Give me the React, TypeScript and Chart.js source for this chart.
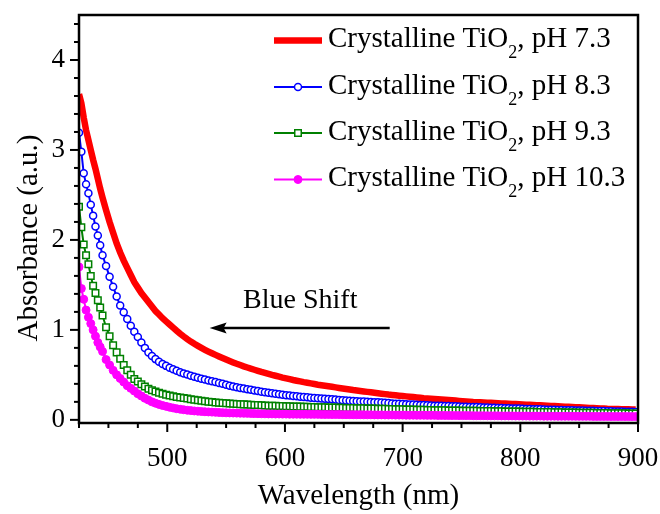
import React, { useEffect, useRef } from 'react';
import { Chart, registerables } from 'chart.js';

Chart.register(...registerables);

// ---------- data ----------
const wavelengths = [
  425, 427, 429, 431, 433, 435, 437, 439, 441, 443, 445,
  448, 451, 454, 457, 460, 463, 466, 469, 472, 475,
  478, 481, 484, 487, 490, 493, 496, 499, 502, 505,
  508, 511, 514, 517, 520, 523, 526, 529, 532, 535,
  538, 541, 544, 547, 550, 553, 556, 559, 562, 565,
  568, 571, 574, 577, 580, 583, 586, 589, 592, 595,
  598, 601, 604, 607, 610, 613, 616, 619, 622, 625,
  628, 631, 634, 637, 640, 643, 646, 649, 652, 655,
  658, 661, 664, 667, 670, 673, 676, 679, 682, 685,
  688, 691, 694, 697, 700, 703, 706, 709, 712, 715,
  718, 721, 724, 727, 730, 733, 736, 739, 742, 745,
  748, 751, 754, 757, 760, 763, 766, 769, 772, 775,
  778, 781, 784, 787, 790, 793, 796, 799, 802, 805,
  808, 811, 814, 817, 820, 823, 826, 829, 832, 835,
  838, 841, 844, 847, 850, 853, 856, 859, 862, 865,
  868, 871, 874, 877, 880, 883, 886, 889, 892, 895,
  898,
];

const absPH73 = [
  3.62, 3.52, 3.36, 3.22, 3.11, 3.00, 2.89, 2.79, 2.68, 2.57, 2.47,
  2.33, 2.20, 2.08, 1.96, 1.86, 1.77, 1.69, 1.61, 1.53, 1.47,
  1.41, 1.36, 1.31, 1.26, 1.21, 1.17, 1.13, 1.095, 1.06, 1.025,
  0.99, 0.957, 0.926, 0.897, 0.870, 0.845, 0.822, 0.800, 0.779, 0.759,
  0.740, 0.722, 0.704, 0.687, 0.670, 0.654, 0.638, 0.623, 0.609, 0.595,
  0.582, 0.569, 0.557, 0.545, 0.533, 0.522, 0.511, 0.500, 0.490, 0.480,
  0.470, 0.461, 0.452, 0.443, 0.435, 0.427, 0.419, 0.412, 0.405, 0.398,
  0.391, 0.385, 0.379, 0.373, 0.367, 0.361, 0.355, 0.349, 0.343, 0.337,
  0.331, 0.326, 0.321, 0.316, 0.311, 0.306, 0.301, 0.296, 0.291, 0.286,
  0.281, 0.277, 0.273, 0.269, 0.265, 0.261, 0.257, 0.253, 0.249, 0.245,
  0.241, 0.238, 0.235, 0.232, 0.229, 0.226, 0.223, 0.220, 0.217, 0.214,
  0.211, 0.208, 0.205, 0.202, 0.199, 0.197, 0.195, 0.193, 0.191, 0.189,
  0.187, 0.185, 0.183, 0.181, 0.179, 0.177, 0.175, 0.173, 0.171, 0.169,
  0.167, 0.165, 0.163, 0.161, 0.159, 0.157, 0.155, 0.153, 0.151, 0.149,
  0.147, 0.145, 0.143, 0.141, 0.139, 0.137, 0.135, 0.133, 0.131, 0.129,
  0.127, 0.125, 0.123, 0.122, 0.121, 0.120, 0.119, 0.118, 0.117, 0.116,
  0.115,
];

const absPH83 = [
  3.19, 2.98, 2.74, 2.62, 2.52, 2.39, 2.27, 2.15, 2.05, 1.94, 1.83,
  1.71, 1.59, 1.48, 1.37, 1.27, 1.195, 1.12, 1.045, 0.98, 0.92,
  0.86, 0.80, 0.75, 0.71, 0.675, 0.645, 0.62, 0.60, 0.58, 0.562,
  0.545, 0.53, 0.516, 0.503, 0.49, 0.479, 0.468, 0.458, 0.448, 0.438,
  0.43, 0.42, 0.41, 0.40, 0.39, 0.38, 0.37, 0.362, 0.355, 0.348,
  0.341, 0.334, 0.327, 0.320, 0.313, 0.307, 0.301, 0.295, 0.289, 0.284,
  0.279, 0.274, 0.270, 0.266, 0.262, 0.258, 0.254, 0.250, 0.246, 0.243,
  0.240, 0.237, 0.234, 0.231, 0.228, 0.225, 0.222, 0.219, 0.216, 0.213,
  0.210, 0.207, 0.205, 0.203, 0.201, 0.199, 0.197, 0.195, 0.192, 0.189,
  0.186, 0.183, 0.180, 0.178, 0.176, 0.174, 0.172, 0.170, 0.168, 0.166,
  0.164, 0.162, 0.160, 0.158, 0.157, 0.156, 0.155, 0.154, 0.152, 0.150,
  0.148, 0.146, 0.145, 0.144, 0.143, 0.142, 0.140, 0.138, 0.136, 0.135,
  0.134, 0.133, 0.131, 0.129, 0.128, 0.127, 0.126, 0.125, 0.123, 0.121,
  0.120, 0.119, 0.118, 0.117, 0.115, 0.113, 0.112, 0.111, 0.110, 0.109,
  0.108, 0.107, 0.106, 0.105, 0.104, 0.103, 0.102, 0.101, 0.100, 0.099,
  0.098, 0.097, 0.096, 0.095, 0.094, 0.093, 0.092, 0.091, 0.090, 0.089,
  0.088,
];

const absPH93 = [
  2.37, 2.14, 1.95, 1.83, 1.73, 1.60, 1.49, 1.41, 1.33, 1.25, 1.16,
  1.03, 0.93, 0.83, 0.75, 0.68, 0.61, 0.55, 0.50, 0.455, 0.425,
  0.395, 0.37, 0.345, 0.33, 0.315, 0.30, 0.29, 0.28, 0.27, 0.262,
  0.255, 0.248, 0.242, 0.236, 0.230, 0.224, 0.218, 0.212, 0.207, 0.202,
  0.198, 0.194, 0.190, 0.187, 0.184, 0.181, 0.178, 0.176, 0.174, 0.172,
  0.170, 0.168, 0.166, 0.164, 0.162, 0.160, 0.158, 0.157, 0.156, 0.155,
  0.154, 0.152, 0.150, 0.149, 0.148, 0.147, 0.146, 0.145, 0.143, 0.142,
  0.141, 0.140, 0.139, 0.138, 0.137, 0.136, 0.135, 0.134, 0.133, 0.132,
  0.131, 0.130, 0.129, 0.128, 0.127, 0.126, 0.125, 0.124, 0.123, 0.122,
  0.121, 0.120, 0.119, 0.118, 0.117, 0.116, 0.115, 0.114, 0.113, 0.112,
  0.111, 0.110, 0.109, 0.108, 0.107, 0.106, 0.106, 0.105, 0.104, 0.104,
  0.103, 0.102, 0.102, 0.101, 0.100, 0.100, 0.099, 0.098, 0.098, 0.097,
  0.096, 0.096, 0.095, 0.094, 0.094, 0.093, 0.092, 0.092, 0.091, 0.090,
  0.090, 0.089, 0.088, 0.088, 0.087, 0.086, 0.086, 0.085, 0.084, 0.084,
  0.083, 0.082, 0.082, 0.081, 0.080, 0.080, 0.079, 0.078, 0.078, 0.077,
  0.076, 0.076, 0.075, 0.074, 0.074, 0.073, 0.072, 0.072, 0.071, 0.070,
  0.070,
];

const absPH103 = [
  1.70, 1.46, 1.34, 1.22, 1.14, 1.07, 1.00, 0.93, 0.86, 0.81, 0.76,
  0.67, 0.61, 0.55, 0.50, 0.46, 0.42, 0.38, 0.35, 0.32, 0.29,
  0.265, 0.24, 0.22, 0.20, 0.185, 0.172, 0.160, 0.150, 0.140, 0.132,
  0.124, 0.118, 0.112, 0.107, 0.103, 0.099, 0.096, 0.093, 0.090, 0.088,
  0.086, 0.084, 0.082, 0.080, 0.078, 0.077, 0.076, 0.075, 0.074, 0.073,
  0.072, 0.071, 0.070, 0.069, 0.068, 0.067, 0.066, 0.066, 0.065, 0.065,
  0.064, 0.064, 0.063, 0.063, 0.063, 0.062, 0.062, 0.062, 0.061, 0.061,
  0.061, 0.060, 0.060, 0.060, 0.059, 0.059, 0.059, 0.058, 0.058, 0.058,
  0.057, 0.057, 0.057, 0.056, 0.056, 0.056, 0.055, 0.055, 0.055, 0.054,
  0.054, 0.054, 0.053, 0.053, 0.053, 0.052, 0.052, 0.052, 0.051, 0.051,
  0.051, 0.050, 0.050, 0.050, 0.049, 0.049, 0.049, 0.048, 0.048, 0.048,
  0.047, 0.047, 0.047, 0.047, 0.046, 0.046, 0.046, 0.046, 0.045, 0.045,
  0.045, 0.045, 0.044, 0.044, 0.044, 0.044, 0.043, 0.043, 0.043, 0.043,
  0.042, 0.042, 0.042, 0.042, 0.041, 0.041, 0.041, 0.041, 0.040, 0.040,
  0.040, 0.040, 0.040, 0.039, 0.039, 0.039, 0.039, 0.039, 0.038, 0.038,
  0.038, 0.038, 0.038, 0.037, 0.037, 0.037, 0.037, 0.037, 0.036, 0.036,
  0.036,
];

const seriesPH = ['7.3', '8.3', '9.3', '10.3'];
const xTickLabels = [500, 600, 700, 800, 900];
const yTickLabels = [0, 1, 2, 3, 4];
const xTitle = 'Wavelength (nm)';
const yTitle = 'Absorbance (a.u.)';
const annotationText = 'Blue Shift';
const annotationTextAt = { x: 613, y: 1.33 };
const arrowTail = { x: 689, y: 1.02 };
const arrowHead = { x: 536, y: 1.02 };

const FONT = "'Liberation Serif', 'Times New Roman', Times, serif";

function toPoints(vals: number[]) {
  return wavelengths.map((w, i) => ({ x: w, y: vals[i] }));
}

const decorPlugin = {
  id: 'decor',
  afterDraw(chart: any) {
    const { ctx, chartArea: a, scales } = chart;
    const xs = scales.x;
    const ys = scales.y;
    ctx.save();
    ctx.strokeStyle = '#000';
    ctx.fillStyle = '#000';
    ctx.lineCap = 'butt';

    // tick marks (outward), major longer
    ctx.lineWidth = 2;
    xs.ticks.forEach((t: any) => {
      const px = xs.getPixelForValue(t.value);
      const len = xTickLabels.includes(t.value) ? 9 : 5;
      ctx.beginPath();
      ctx.moveTo(px, a.bottom);
      ctx.lineTo(px, a.bottom + len);
      ctx.stroke();
    });
    ys.ticks.forEach((t: any) => {
      const py = ys.getPixelForValue(t.value);
      const major = yTickLabels.some((v) => Math.abs(v - t.value) < 1e-6);
      const len = major ? 9 : 5;
      ctx.beginPath();
      ctx.moveTo(a.left, py);
      ctx.lineTo(a.left - len, py);
      ctx.stroke();
    });

    // frame
    ctx.lineWidth = 2.5;
    ctx.strokeRect(a.left, a.top, a.right - a.left, a.bottom - a.top);

    // axis titles
    ctx.font = `29px ${FONT}`;
    ctx.textAlign = 'center';
    ctx.textBaseline = 'middle';
    ctx.fillText(xTitle, (a.left + a.right) / 2, 496);
    ctx.save();
    ctx.translate(29, 238);
    ctx.rotate(-Math.PI / 2);
    ctx.fillText(yTitle, 0, 0);
    ctx.restore();

    // annotation
    ctx.font = `28px ${FONT}`;
    ctx.fillText(annotationText, xs.getPixelForValue(annotationTextAt.x), ys.getPixelForValue(annotationTextAt.y));
    const tx = xs.getPixelForValue(arrowTail.x);
    const hx = xs.getPixelForValue(arrowHead.x);
    const ay = ys.getPixelForValue(arrowHead.y);
    ctx.lineWidth = 2.5;
    ctx.beginPath();
    ctx.moveTo(tx, ay);
    ctx.lineTo(hx + 12, ay);
    ctx.stroke();
    ctx.beginPath();
    ctx.moveTo(hx, ay);
    ctx.lineTo(hx + 17, ay - 5.5);
    ctx.lineTo(hx + 14, ay);
    ctx.lineTo(hx + 17, ay + 5.5);
    ctx.closePath();
    ctx.fill();

    // legend
    const rows = [40.5, 87, 133, 179.5];
    const x0 = 274;
    const x1 = 322;
    const tx0 = 328;
    chart.data.datasets.forEach((ds: any, i: number) => {
      const y = rows[i];
      ctx.strokeStyle = ds.borderColor;
      ctx.lineWidth = ds.borderWidth;
      ctx.beginPath();
      ctx.moveTo(x0, y);
      ctx.lineTo(x1, y);
      ctx.stroke();
      if (ds.pointRadius > 0) {
        const cx = (x0 + x1) / 2;
        ctx.lineWidth = ds.pointBorderWidth;
        ctx.fillStyle = ds.pointBackgroundColor;
        ctx.strokeStyle = ds.borderColor;
        ctx.beginPath();
        if (ds.pointStyle === 'rect') {
          const s = ds.pointRadius * Math.SQRT1_2;
          ctx.rect(cx - s, y - s, 2 * s, 2 * s);
        } else {
          ctx.arc(cx, y, ds.pointRadius, 0, Math.PI * 2);
        }
        ctx.fill();
        ctx.stroke();
      }
      ctx.fillStyle = '#000';
      ctx.textAlign = 'left';
      ctx.textBaseline = 'alphabetic';
      const base = y + 6.5;
      ctx.font = `29px ${FONT}`;
      const p1 = 'Crystalline TiO';
      ctx.fillText(p1, tx0, base);
      let cx = tx0 + ctx.measureText(p1).width;
      ctx.font = `18px ${FONT}`;
      ctx.fillText('2', cx, base + 11);
      cx += ctx.measureText('2').width;
      ctx.font = `29px ${FONT}`;
      ctx.fillText(`, pH ${seriesPH[i]}`, cx, base);
    });

    ctx.restore();
  },
};

export default function App() {
  const ref = useRef<HTMLCanvasElement | null>(null);

  useEffect(() => {
    if (!ref.current) return;
    const chart = new Chart(ref.current, {
      type: 'line',
      data: {
        datasets: [
          {
            label: 'Crystalline TiO2, pH 7.3',
            data: toPoints(absPH73),
            borderColor: '#FF0000',
            backgroundColor: '#FF0000',
            borderWidth: 6.5,
            pointRadius: 0,
            order: 4,
          },
          {
            label: 'Crystalline TiO2, pH 8.3',
            data: toPoints(absPH83),
            borderColor: '#0000FF',
            borderWidth: 2,
            pointStyle: 'circle',
            pointRadius: 3.5,
            pointBorderWidth: 1.5,
            pointBackgroundColor: '#FFFFFF',
            pointBorderColor: '#0000FF',
            order: 3,
          },
          {
            label: 'Crystalline TiO2, pH 9.3',
            data: toPoints(absPH93),
            borderColor: '#008000',
            borderWidth: 2,
            pointStyle: 'rect',
            pointRadius: 4.6,
            pointBorderWidth: 1.5,
            pointBackgroundColor: '#FFFFFF',
            pointBorderColor: '#008000',
            order: 2,
          },
          {
            label: 'Crystalline TiO2, pH 10.3',
            data: toPoints(absPH103),
            borderColor: '#FF00FF',
            borderWidth: 2,
            pointStyle: 'circle',
            pointRadius: 4,
            pointBorderWidth: 1,
            pointBackgroundColor: '#FF00FF',
            pointBorderColor: '#FF00FF',
            order: 1,
          },
        ] as any,
      },
      options: {
        animation: false,
        responsive: false,
        devicePixelRatio: 1,
        layout: { padding: { top: 15, right: 22, left: 0, bottom: 0 } },
        plugins: {
          legend: { display: false },
          tooltip: { enabled: false },
        },
        scales: {
          x: {
            type: 'linear',
            min: 425,
            max: 900,
            grid: { display: false, drawTicks: false },
            border: { display: false },
            ticks: {
              stepSize: 25,
              autoSkip: false,
              maxRotation: 0,
              includeBounds: false,
              padding: 20,
              color: '#000',
              font: { family: FONT, size: 27 },
              callback: (v: any) => (xTickLabels.includes(Number(v)) ? String(v) : ''),
            },
            afterFit: (s: any) => {
              s.height = 91;
              s.paddingLeft = 0;
              s.paddingRight = 0;
            },
          },
          y: {
            type: 'linear',
            min: -0.035,
            max: 4.5,
            grid: { display: false, drawTicks: false },
            border: { display: false },
            ticks: {
              stepSize: 0.2,
              autoSkip: false,
              includeBounds: false,
              padding: 14,
              color: '#000',
              font: { family: FONT, size: 27 },
              callback: (v: any) => {
                const n = Number(v);
                return yTickLabels.some((t) => Math.abs(t - n) < 1e-6) ? String(Math.round(n)) : '';
              },
            },
            afterFit: (s: any) => {
              s.width = 79;
              s.paddingTop = 0;
              s.paddingBottom = 0;
            },
          },
        },
      } as any,
      plugins: [decorPlugin],
    });
    return () => chart.destroy();
  }, []);

  return (
    <div style={{ position: 'fixed', left: 0, top: 0, width: 660, height: 514, background: '#fff' }}>
      <canvas ref={ref} width={660} height={514} style={{ display: 'block' }} />
    </div>
  );
}
